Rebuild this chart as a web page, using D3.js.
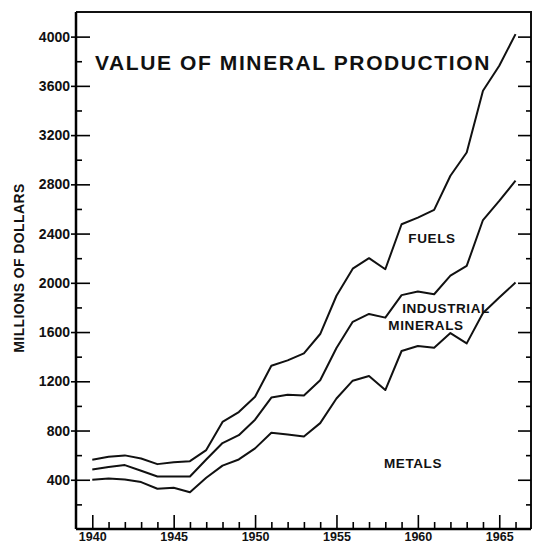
<!DOCTYPE html>
<html>
<head>
<meta charset="utf-8">
<script src="https://cdn.jsdelivr.net/npm/d3@7"></script>
<style>
  body { margin: 0; background: #fff; }
  svg { display: block; }
  text { font-family: "Liberation Sans", Arial, sans-serif; fill: #111; }
</style>
</head>
<body>
<div id="chart"></div>
<script>
// values, millions of dollars per year
const years = d3.range(1940, 1967);
const metals = [400, 410, 402, 381, 327, 335, 299, 416, 515, 565, 655, 782, 768, 752, 860, 1060, 1205, 1243, 1129, 1446, 1486, 1473, 1592, 1508, 1755, 1880, 2002];
const industrialMinerals = [84, 93, 117, 92, 100, 92, 128, 149, 183, 197, 233, 286, 322, 333, 348, 410, 478, 504, 588, 454, 444, 434, 466, 629, 755, 785, 828];
const fuels = [79, 84, 79, 100, 100, 116, 124, 76, 172, 188, 187, 258, 280, 342, 376, 425, 432, 453, 393, 576, 600, 685, 812, 922, 1050, 1098, 1190];

const yMajorTicks = d3.range(400, 4001, 400);
const yMinorTicks = d3.range(200, 4200, 400);
const xMajorTicks = [1940, 1945, 1950, 1955, 1960, 1965];

const width = 533, height = 543;
const plotLeft = 76, plotRight = 531, plotTop = 12, plotBottom = 529;

const svg = d3.select("#chart").append("svg")
  .attr("width", width)
  .attr("height", height);

const x = d3.scaleLinear().domain([1939, 1966.95]).range([plotLeft, plotRight]);
const y = d3.scaleLinear().domain([0, 4200]).range([plotBottom, plotTop]);

const table = years.map((yr, i) => ({
  year: yr,
  metals: metals[i],
  industrial: industrialMinerals[i],
  fuels: fuels[i]
}));
const stacked = d3.stack().keys(["metals", "industrial", "fuels"])(table);

const line = d3.line()
  .x(d => x(d.data.year))
  .y(d => y(d[1]));

svg.append("g")
  .selectAll("path")
  .data(stacked)
  .join("path")
  .attr("d", line)
  .attr("fill", "none")
  .attr("stroke", "#111")
  .attr("stroke-width", 2)
  .attr("stroke-linejoin", "round");

// frame: top and right edges
svg.append("path")
  .attr("d", `M${plotLeft},${plotTop}H${plotRight}V${plotBottom}`)
  .attr("fill", "none")
  .attr("stroke", "#111")
  .attr("stroke-width", 2);

// left axis: labelled major ticks that cross the line, small inner minor ticks
const yAxis = svg.append("g")
  .attr("transform", `translate(${plotLeft},0)`)
  .call(d3.axisLeft(y).tickValues(yMajorTicks).tickSize(-14).tickSizeOuter(0)
    .tickPadding(6).tickFormat(d3.format("d")));
yAxis.select(".domain").attr("d", `M0,${plotTop}V${plotBottom}`).attr("stroke-width", 2.5);
yAxis.selectAll(".tick line").attr("x1", -5).attr("stroke-width", 1.6);
yAxis.selectAll(".tick text")
  .attr("font-size", 14)
  .attr("font-weight", 600)
  .attr("fill", "#111");

svg.append("g")
  .attr("transform", `translate(${plotLeft},0)`)
  .call(d3.axisRight(y).tickValues(yMinorTicks).tickSize(6).tickFormat(""))
  .call(g => g.select(".domain").remove())
  .call(g => g.selectAll(".tick line").attr("stroke-width", 1.6));

// right edge ticks pointing inward
svg.append("g")
  .attr("transform", `translate(${plotRight},0)`)
  .call(d3.axisLeft(y).tickValues(yMajorTicks).tickSize(13).tickFormat(""))
  .call(g => g.select(".domain").remove())
  .call(g => g.selectAll(".tick line").attr("stroke-width", 1.6));
svg.append("g")
  .attr("transform", `translate(${plotRight},0)`)
  .call(d3.axisLeft(y).tickValues(yMinorTicks).tickSize(5).tickFormat(""))
  .call(g => g.select(".domain").remove())
  .call(g => g.selectAll(".tick line").attr("stroke-width", 1.6));

// bottom axis: yearly ticks, taller every five years
const xAxis = svg.append("g")
  .attr("transform", `translate(0,${plotBottom})`)
  .call(d3.axisBottom(x).tickValues(xMajorTicks).tickSize(-14).tickSizeOuter(0)
    .tickPadding(3).tickFormat(d3.format("d")));
xAxis.select(".domain").attr("d", `M${plotLeft},0H${plotRight}`).attr("stroke-width", 2.5);
xAxis.selectAll(".tick line").attr("stroke-width", 1.6);
xAxis.selectAll(".tick text")
  .attr("font-size", 12.5)
  .attr("font-weight", 600)
  .attr("fill", "#111");

svg.append("g")
  .attr("transform", `translate(0,${plotBottom})`)
  .call(d3.axisBottom(x).tickValues(years.filter(v => v % 5 !== 0)).tickSize(-7).tickFormat(""))
  .call(g => g.select(".domain").remove())
  .call(g => g.selectAll(".tick line").attr("stroke-width", 1.6));

// y axis title
svg.append("text")
  .attr("transform", "translate(24,268) rotate(-90)")
  .attr("text-anchor", "middle")
  .attr("font-size", 14)
  .attr("font-weight", 600)
  .attr("letter-spacing", 0.4)
  .text("MILLIONS OF DOLLARS");

// chart title
svg.append("text")
  .attr("x", 95)
  .attr("y", 70)
  .attr("font-size", 21)
  .attr("font-weight", "bold")
  .attr("letter-spacing", 1.6)
  .text("VALUE OF MINERAL PRODUCTION");

// series labels
const labels = [
  { text: "FUELS", x: 432, y: 243 },
  { text: "INDUSTRIAL", x: 446, y: 313 },
  { text: "MINERALS", x: 426, y: 330 },
  { text: "METALS", x: 413, y: 468 }
];
svg.append("g")
  .selectAll("text")
  .data(labels)
  .join("text")
  .attr("x", d => d.x)
  .attr("y", d => d.y)
  .attr("text-anchor", "middle")
  .attr("font-size", 13.5)
  .attr("font-weight", "bold")
  .attr("letter-spacing", 0.6)
  .text(d => d.text);
</script>
</body>
</html>
